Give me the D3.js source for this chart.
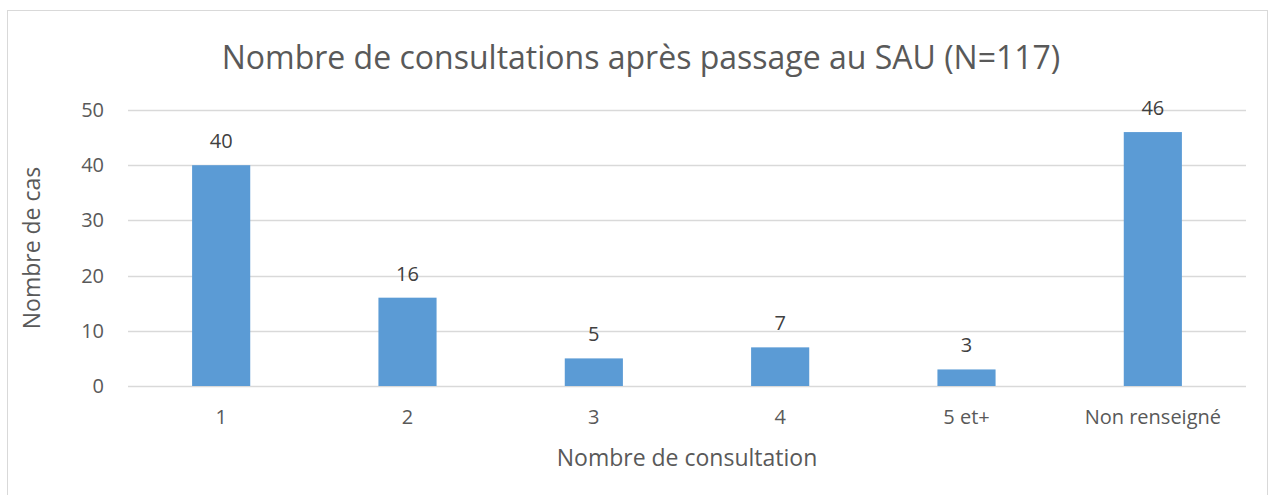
<!DOCTYPE html>
<html>
<head>
<meta charset="utf-8">
<script src="https://cdn.jsdelivr.net/npm/d3@7"></script>
<style>
  body { margin: 0; background: #fff; }
  text { font-family: "Open Sans", sans-serif; fill: #595959; }
</style>
</head>
<body>
<div class="chart"></div>
<script>
// data
const categories = ["1", "2", "3", "4", "5 et+", "Non renseigné"];
const counts = [40, 16, 5, 7, 3, 46];
const yTicks = [0, 10, 20, 30, 40, 50];

const W = 1276, H = 495;
const plot = {left: 128, right: 1246, top: 110, bottom: 386};

const svg = d3.select(".chart").append("svg")
    .attr("width", W).attr("height", H);

// outer frame
svg.append("rect")
    .attr("x", 7.5).attr("y", 10.5)
    .attr("width", 1260).attr("height", 500)
    .attr("fill", "#fff").attr("stroke", "#d9d9d9");

const x = d3.scaleBand().domain(categories)
    .range([plot.left, plot.right]).paddingInner(0.688).paddingOuter(0.344);
const y = d3.scaleLinear().domain([0, 50]).range([plot.bottom, plot.top]);

// gridlines
svg.append("g").selectAll("line")
  .data(yTicks)
  .join("line")
    .attr("x1", plot.left).attr("x2", plot.right)
    .attr("y1", d => Math.round(y(d)) + 0.5).attr("y2", d => Math.round(y(d)) + 0.5)
    .attr("stroke", "#d9d9d9").attr("stroke-width", 1.3);

// y tick labels
svg.append("g").selectAll("text")
  .data(yTicks)
  .join("text")
    .attr("x", 104).attr("y", d => y(d) + 7)
    .attr("text-anchor", "end")
    .style("font-size", "20px")
    .text(d => d);

// bars
svg.append("g").selectAll("rect")
  .data(counts)
  .join("rect")
    .attr("x", (d, i) => x(categories[i]))
    .attr("width", x.bandwidth())
    .attr("y", d => y(d))
    .attr("height", d => y(0) - y(d))
    .attr("fill", "#5b9bd5");

// value labels
svg.append("g").selectAll("text")
  .data(counts)
  .join("text")
    .attr("x", (d, i) => x(categories[i]) + x.bandwidth() / 2)
    .attr("y", d => y(d) - 17)
    .attr("text-anchor", "middle")
    .style("font-size", "20px")
    .style("fill", "#404040")
    .text(d => d);

// x tick labels
svg.append("g").selectAll("text")
  .data(categories)
  .join("text")
    .attr("x", d => x(d) + x.bandwidth() / 2)
    .attr("y", 424)
    .attr("text-anchor", "middle")
    .style("font-size", "20px")
    .text(d => d);

// titles
svg.append("text")
    .attr("x", 641).attr("y", 69)
    .attr("text-anchor", "middle")
    .style("font-size", "32px")
    .text("Nombre de consultations après passage au SAU (N=117)");

svg.append("text")
    .attr("x", 687).attr("y", 466)
    .attr("text-anchor", "middle")
    .style("font-size", "23px")
    .text("Nombre de consultation");

svg.append("text")
    .attr("transform", "translate(40,248) rotate(-90)")
    .attr("text-anchor", "middle")
    .style("font-size", "23px")
    .text("Nombre de cas");
</script>
</body>
</html>
